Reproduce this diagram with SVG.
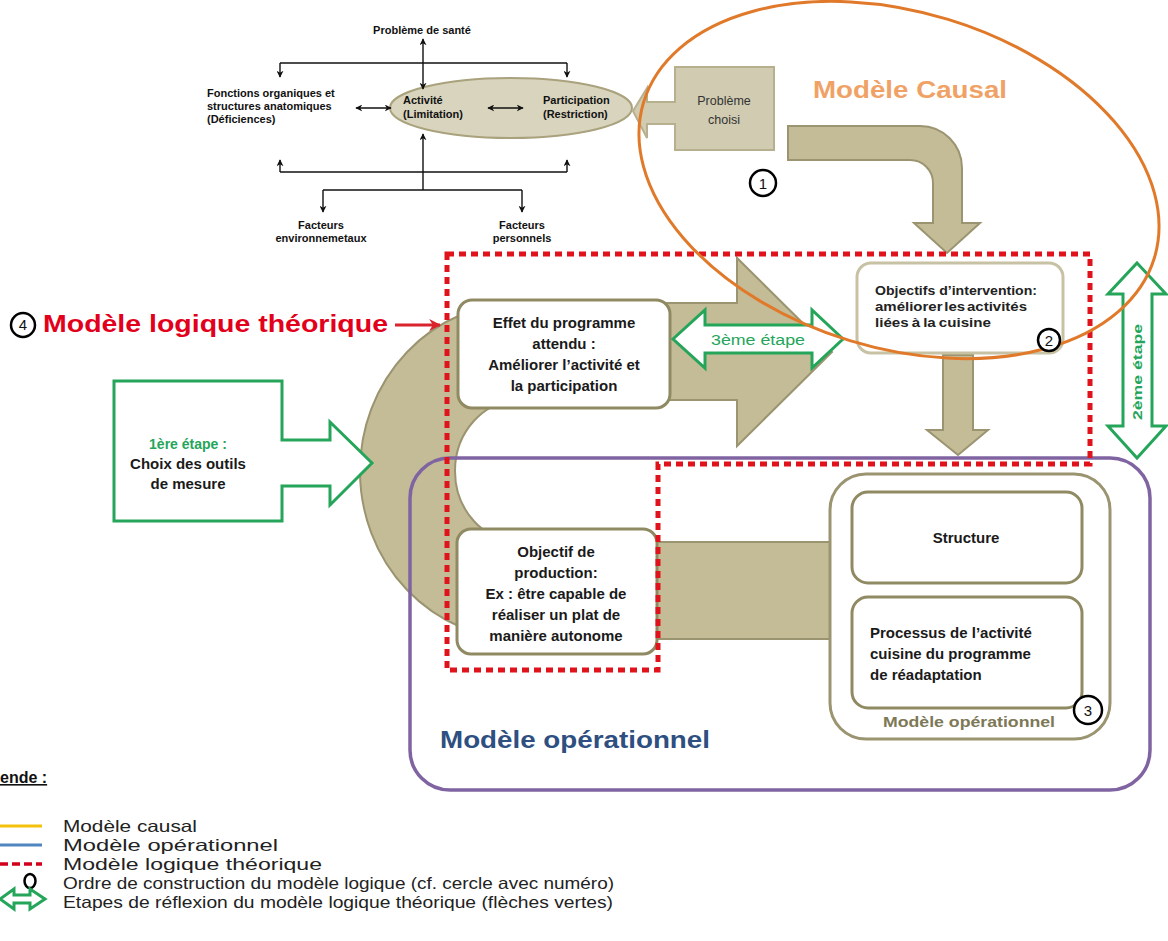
<svg xmlns="http://www.w3.org/2000/svg" width="1168" height="941" viewBox="0 0 1168 941">
<style>
text{font-family:"Liberation Sans",Arial,sans-serif;}
.b{font-weight:bold;}
.icf{font-size:11px;font-weight:bold;fill:#111;}
.tan{fill:#c4bc97;stroke:#9b9470;stroke-width:2;}
.box{fill:#fff;stroke:#8f8a62;stroke-width:3;}
.box2{fill:#fff;stroke:#c7c2a4;stroke-width:3;}
.grn{fill:#fff;stroke:#25a55a;stroke-width:3;stroke-linejoin:miter;}
.red{fill:none;stroke:#e0121c;stroke-width:5;stroke-dasharray:7 5;}
.bt{font-size:15px;font-weight:bold;fill:#1a1a1a;}
.oi{font-size:13px;font-weight:bold;fill:#222;}
.num{fill:#fff;stroke:#000;stroke-width:2.5;}
.numt{font-size:15px;fill:#111;text-anchor:middle;}
.ln{stroke:#111;stroke-width:1.4;fill:none;}
.leg{font-size:16.5px;fill:#222;}
</style>
<defs>
<marker id="ah" viewBox="0 0 10 10" refX="9" refY="5" markerWidth="7" markerHeight="7" markerUnits="userSpaceOnUse" orient="auto-start-reverse">
<path d="M0,0 L10,5 L0,10 L3,5 Z" fill="#111"/>
</marker>
<marker id="rah" viewBox="0 0 10 10" refX="9" refY="5" markerWidth="12" markerHeight="12" markerUnits="userSpaceOnUse" orient="auto">
<path d="M0,0 L10,5 L0,10 L3,5 Z" fill="#d9232d"/>
</marker>
</defs>
<rect width="1168" height="941" fill="#fff"/>

<!-- ICF model -->
<g id="icf-ellipse">
<ellipse cx="511" cy="108" rx="121" ry="30" fill="#d8d4be" stroke="#a9a27d" stroke-width="2"/>
<text class="icf" x="403" y="104">Activité</text>
<text class="icf" x="403" y="118">(Limitation)</text>
<text class="icf" x="543" y="104">Participation</text>
<text class="icf" x="543" y="118">(Restriction)</text>
</g>
<g id="icf-sante"><text class="icf" x="422" y="34" text-anchor="middle">Problème de santé</text></g>
<g id="icf-fonctions">
<text class="icf" x="207" y="97">Fonctions organiques et</text>
<text class="icf" x="207" y="110">structures anatomiques</text>
<text class="icf" x="207" y="123">(Déficiences)</text>
</g>
<g id="icf-env">
<text class="icf" x="321" y="229" text-anchor="middle">Facteurs</text>
<text class="icf" x="321" y="242" text-anchor="middle">environnemetaux</text>
</g>
<g id="icf-pers">
<text class="icf" x="522" y="229" text-anchor="middle">Facteurs</text>
<text class="icf" x="522" y="242" text-anchor="middle">personnels</text>
</g>
<g id="icf-connectors">
<path class="ln" d="M423,39 L423,89" marker-start="url(#ah)" marker-end="url(#ah)"/>
<path class="ln" d="M280,63 L567,63"/>
<path class="ln" d="M280,63 L280,77" marker-end="url(#ah)"/>
<path class="ln" d="M567,63 L567,77" marker-end="url(#ah)"/>
<path class="ln" d="M356,108 L391,108" marker-start="url(#ah)" marker-end="url(#ah)"/>
<path class="ln" d="M488,108 L523,108" marker-start="url(#ah)" marker-end="url(#ah)"/>
<path class="ln" d="M423,190 L423,134" stroke-width="2" marker-end="url(#ah)"/>
<path class="ln" d="M280,172 L567,172"/>
<path class="ln" d="M280,172 L280,160" marker-end="url(#ah)"/>
<path class="ln" d="M567,172 L567,160" marker-end="url(#ah)"/>
<path class="ln" d="M323,190 L522,190"/>
<path class="ln" d="M323,190 L323,212" marker-end="url(#ah)"/>
<path class="ln" d="M522,190 L522,212" marker-end="url(#ah)"/>
</g>

<!-- Tan arrows -->
<g id="connectors">
<path class="tan" d="M520,303 L737,303 L737,258 L832,352 L737,446 L737,400 L520,400 A65,71 0 0 0 520,542 L830,542 L830,639 L520,639 A160,168 0 0 1 520,303 Z"/>
<path class="tan" d="M788,126 L920,126 A42,42 0 0 1 962,168 L962,223 L980,223 L947,253 L914,223 L933,223 L933,183 A23,23 0 0 0 910,160 L788,160 Z"/>
<path class="tan" d="M943,355 L973,355 L973,430 L988,430 L958,455 L927,430 L943,430 Z"/>
<path d="M395,325 L440,325" stroke="#d9232d" stroke-width="3" marker-end="url(#rah)"/>
</g>

<g id="probleme-choisi">
<path d="M675,67 L774,67 L774,150 L675,150 L675,124 L647,124 L647,138 L633,111 L647,88 L647,102 L675,102 Z" fill="#d1ccb1" stroke="#b7b08f" stroke-width="2"/>
<text x="724" y="105" font-size="12.5" fill="#333" text-anchor="middle">Problème</text>
<text x="724" y="124" font-size="12.5" fill="#333" text-anchor="middle">choisi</text>
</g>

<g id="effet">
<rect class="box" x="458" y="300" width="212" height="108" rx="14"/>
<text class="bt" x="564" y="328" text-anchor="middle">Effet du programme</text>
<text class="bt" x="564" y="349" text-anchor="middle">attendu :</text>
<text class="bt" x="564" y="370" text-anchor="middle">Améliorer l’activité et</text>
<text class="bt" x="564" y="391" text-anchor="middle">la participation</text>
</g>

<g id="objectifs-intervention">
<rect class="box2" x="857" y="263" width="206" height="90" rx="14"/>
<text class="oi" x="875" y="295" textLength="162" lengthAdjust="spacingAndGlyphs">Objectifs d’intervention:</text>
<text class="oi" x="875" y="311" textLength="152" lengthAdjust="spacingAndGlyphs" word-spacing="-2">améliorer les activités</text>
<text class="oi" x="875" y="327" textLength="116" lengthAdjust="spacingAndGlyphs" word-spacing="-1">liées à la cuisine</text>
</g>

<g id="objectif-production">
<rect class="box" x="457" y="529" width="200" height="125" rx="14"/>
<text class="bt" x="556" y="557" text-anchor="middle">Objectif de</text>
<text class="bt" x="556" y="578" text-anchor="middle">production:</text>
<text class="bt" x="556" y="599" text-anchor="middle">Ex : être capable de</text>
<text class="bt" x="556" y="620" text-anchor="middle">réaliser un plat de</text>
<text class="bt" x="556" y="641" text-anchor="middle">manière autonome</text>
</g>

<g id="modele-operationnel-inner">
<rect x="830" y="474" width="280" height="265" rx="36" fill="#fff" stroke="#9b9470" stroke-width="3"/>
<rect class="box" x="852" y="492" width="230" height="91" rx="16"/>
<text class="bt" x="966" y="543" text-anchor="middle">Structure</text>
<rect class="box" x="852" y="597" width="230" height="111" rx="16"/>
<text class="bt" x="870" y="638">Processus  de l’activité</text>
<text class="bt" x="870" y="659">cuisine du programme</text>
<text class="bt" x="870" y="680">de réadaptation</text>
<text x="883" y="727" font-size="14" font-weight="bold" fill="#7d7856" textLength="172" lengthAdjust="spacingAndGlyphs">Modèle opérationnel</text>
</g>

<g id="modele-operationnel">
<rect x="410" y="458" width="740" height="332" rx="40" fill="none" stroke="#8064a2" stroke-width="3.5"/>
<text x="440" y="748" font-size="23" font-weight="bold" fill="#2e4f7f" textLength="270" lengthAdjust="spacingAndGlyphs">Modèle opérationnel</text>
</g>

<g id="modele-logique">
<path class="red" d="M447,254 L1090,254 L1090,464 L658,464 L658,670 L447,670 Z"/>
<circle class="num" cx="23" cy="325" r="12"/>
<text class="numt" x="23" y="330">4</text>
<text x="43" y="332" font-size="23" font-weight="bold" fill="#e3001b" textLength="345" lengthAdjust="spacingAndGlyphs">Modèle logique théorique</text>
</g>

<g id="etape1">
<path class="grn" d="M114,381 L282,381 L282,440 L330,440 L330,422 L372,463 L330,505 L330,486 L282,486 L282,521 L114,521 Z"/>
<text x="188" y="449" font-size="14" font-weight="bold" fill="#25a55a" text-anchor="middle">1ère étape :</text>
<text class="bt" x="188" y="469" text-anchor="middle">Choix des outils</text>
<text class="bt" x="188" y="489" text-anchor="middle">de mesure</text>
</g>

<g id="etape3">
<path class="grn" d="M673,339 L705,310 L705,325 L812,325 L812,310 L843,339 L812,368 L812,353 L705,353 L705,368 Z"/>
<text x="758" y="345" font-size="14" fill="#25a55a" text-anchor="middle" textLength="94" lengthAdjust="spacingAndGlyphs">3ème étape</text>
</g>

<g id="etape2">
<path class="grn" d="M1137,263 L1166,294 L1152,294 L1152,426 L1166,426 L1137,458 L1108,426 L1123,426 L1123,294 L1108,294 Z"/>
<text transform="translate(1142,372) rotate(-90)" font-size="13" font-weight="bold" fill="#25a55a" text-anchor="middle" textLength="96" lengthAdjust="spacingAndGlyphs">2ème étape</text>
</g>

<g id="modele-causal">
<ellipse cx="899" cy="180" rx="267" ry="168" transform="rotate(17 899 180)" fill="none" stroke="#e07a2a" stroke-width="3"/>
<text x="813" y="98" font-size="23" font-weight="bold" fill="#f0a266" textLength="194" lengthAdjust="spacingAndGlyphs">Modèle Causal</text>
</g>

<g id="num1"><circle class="num" cx="763" cy="183" r="13"/><text class="numt" x="763" y="189">1</text></g>
<g id="num2"><circle class="num" cx="1049" cy="340" r="11"/><text class="numt" x="1049" y="346">2</text></g>
<g id="num3"><circle class="num" cx="1088" cy="710" r="14"/><text class="numt" x="1088" y="716">3</text></g>

<g id="legende">
<text x="0" y="783" font-size="16" font-weight="bold" fill="#111" text-decoration="underline">ende :</text>
<line x1="0" y1="826" x2="42" y2="826" stroke="#f4c20d" stroke-width="3"/>
<line x1="0" y1="845" x2="42" y2="845" stroke="#4f86c0" stroke-width="3"/>
<line x1="0" y1="864" x2="42" y2="864" stroke="#d4001b" stroke-width="3.5" stroke-dasharray="8 4"/>
<ellipse cx="30" cy="881" rx="5.5" ry="7" fill="none" stroke="#000" stroke-width="2.5"/>
<path class="grn" d="M0,899 L14,889 L14,895 L30,895 L30,889 L45,899 L30,909 L30,903 L14,903 L14,909 Z" stroke-width="2.5"/>
<text class="leg" x="63" y="832" textLength="134" lengthAdjust="spacingAndGlyphs">Modèle causal</text>
<text class="leg" x="63" y="851" textLength="215" lengthAdjust="spacingAndGlyphs">Modèle opérationnel</text>
<text class="leg" x="63" y="870" textLength="259" lengthAdjust="spacingAndGlyphs">Modèle logique théorique</text>
<text class="leg" x="63" y="889" textLength="551" lengthAdjust="spacingAndGlyphs">Ordre de construction  du modèle logique (cf. cercle avec numéro)</text>
<text class="leg" x="63" y="908" textLength="550" lengthAdjust="spacingAndGlyphs">Etapes  de réflexion du modèle logique théorique (flèches vertes)</text>
</g>
</svg>
